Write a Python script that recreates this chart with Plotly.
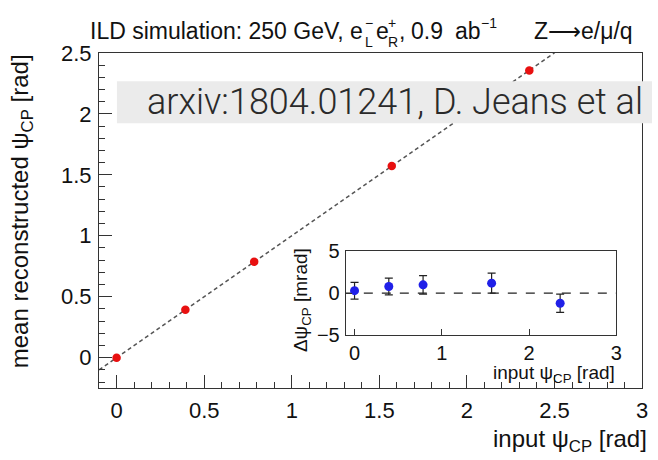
import plotly.graph_objects as go

# ---- data ----
input_psi = [0.0, 0.3927, 0.7854, 1.5708, 2.3562]          # generated psi_CP [rad]
mean_reco = [0.0003, 0.3935, 0.7864, 1.5720, 2.3550]      # mean reconstructed psi_CP [rad]
delta_mrad = [0.3, 0.8, 1.0, 1.2, -1.2]                    # reco - input [mrad]
delta_err = [1.0, 1.0, 1.1, 1.2, 1.1]                      # uncertainty [mrad]
diag_ends = [-0.1, 2.5]                                    # y = x reference line
zero_ends = [-0.1, 3.0]                                    # inset zero line

W, H = 658, 460
FONT = "Liberation Sans, Arial, sans-serif"


def px(x, y):
    return x / W, 1 - y / H


fig = go.Figure()

# main panel
fig.add_trace(go.Scatter(x=diag_ends, y=diag_ends, mode="lines",
                         line=dict(color="#555555", width=1.5, dash="4px,3px"),
                         hoverinfo="skip", showlegend=False))
fig.add_trace(go.Scatter(x=input_psi, y=mean_reco, mode="markers",
                         marker=dict(color="#e81010", size=8.5),
                         showlegend=False))

# inset: residuals
fig.add_trace(go.Scatter(x=zero_ends, y=[0, 0], mode="lines",
                         line=dict(color="#222222", width=1.2, dash="dash"),
                         xaxis="x2", yaxis="y2", hoverinfo="skip", showlegend=False))
fig.add_trace(go.Scatter(x=input_psi, y=delta_mrad, mode="markers",
                         marker=dict(color="#2020e8", size=9),
                         error_y=dict(type="data", array=delta_err, color="#222222",
                                      thickness=1.2, width=4),
                         xaxis="x2", yaxis="y2", showlegend=False))

axis_common = dict(showgrid=False, zeroline=False, showline=True, mirror=True,
                   linecolor="#333333", linewidth=1.2, ticks="inside",
                   tickcolor="#333333", tickfont=dict(family=FONT, size=22, color="#111111"))

main_x = px(100, 0)[0], px(648, 0)[0]
main_y = px(0, 396)[1], px(0, 43)[1]
ins_x = px(349, 0)[0], px(622, 0)[0]
ins_y = px(0, 340)[1], px(0, 252)[1]

fig.update_layout(
    width=W, height=H,
    margin=dict(l=0, r=0, t=0, b=0),
    paper_bgcolor="white", plot_bgcolor="white",
    font=dict(family=FONT, color="#111111"),
    xaxis=dict(axis_common, domain=list(main_x), range=[-0.1, 3.0],
               tickmode="linear", tick0=0, dtick=0.5, ticklen=13, ticklabelstandoff=2,
               minor=dict(ticks="inside", dtick=0.1, ticklen=6, tickcolor="#333333")),
    yaxis=dict(axis_common, domain=list(main_y), range=[-0.25, 2.5],
               tickmode="linear", tick0=0, dtick=0.5, ticklen=13, ticklabelstandoff=2,
               minor=dict(ticks="inside", dtick=0.1, ticklen=6, tickcolor="#333333")),
    xaxis2=dict(axis_common, domain=list(ins_x), range=[-0.1, 3.0], anchor="y2",
                tickmode="linear", tick0=0, dtick=1, ticklen=6, ticklabelstandoff=0,
                tickfont=dict(family=FONT, size=20, color="#111111")),
    yaxis2=dict(axis_common, domain=list(ins_y), range=[-5, 5], anchor="x2",
                tickmode="linear", tick0=-5, dtick=5, ticklen=6, ticklabelstandoff=1,
                tickfont=dict(family=FONT, size=20, color="#111111")),
)

annotations = []


def label(text, x, y, size, xanchor="left", yanchor="middle", angle=0,
          family=FONT, color="#111111", weight=None):
    fx, fy = px(x, y)
    f = dict(family=family, size=size, color=color)
    if weight is not None:
        f["weight"] = weight
    annotations.append(dict(text=text, x=fx, y=fy, xref="paper", yref="paper",
                            xanchor=xanchor, yanchor=yanchor, textangle=angle,
                            showarrow=False, font=f, borderpad=0))


# header line (stacked sub/superscripts placed individually)
label("ILD simulation: 250 GeV, e", 367, 20, 23, xanchor="right")
label("\u2212", 367, 12, 14)
label("L", 367, 32, 14)
label("e", 378, 20, 23)
label("+", 391, 12, 14)
label("R", 391, 32, 14)
label(",", 402, 20, 23)
label("0.9", 414, 20, 23)
label("ab", 458, 20, 23)
label("\u22121", 484, 12, 14)
label("Z\u27f6e/\u03bc/q", 538, 20, 23)

# axis titles
label("mean reconstructed \u03c8<sub>CP</sub> [rad]", 22, 210, 24,
      xanchor="center", angle=-90)
label("input \u03c8<sub>CP</sub> [rad]", 654, 451, 24, xanchor="right")
label("\u0394\u03c8<sub>CP</sub> [mrad]", 305, 303, 19, xanchor="center", angle=-90)
label("input \u03c8<sub>CP</sub> [rad]", 622, 381, 19, xanchor="right")

# citation banner
label("arxiv:1804.01241, D. Jeans et al", 147, 95, 36,
      family="Roboto Light, Roboto, Lato, sans-serif", color="#2a2a2a", weight=300)

fig.update_layout(annotations=annotations)

bx0, by0 = px(118, 117)
bx1, by1 = px(658, 73)
fig.add_shape(type="rect", xref="paper", yref="paper",
              x0=bx0, x1=bx1, y0=by0, y1=by1,
              fillcolor="#ebebeb", line=dict(width=0), layer="above")

fig.write_html("out.html")
